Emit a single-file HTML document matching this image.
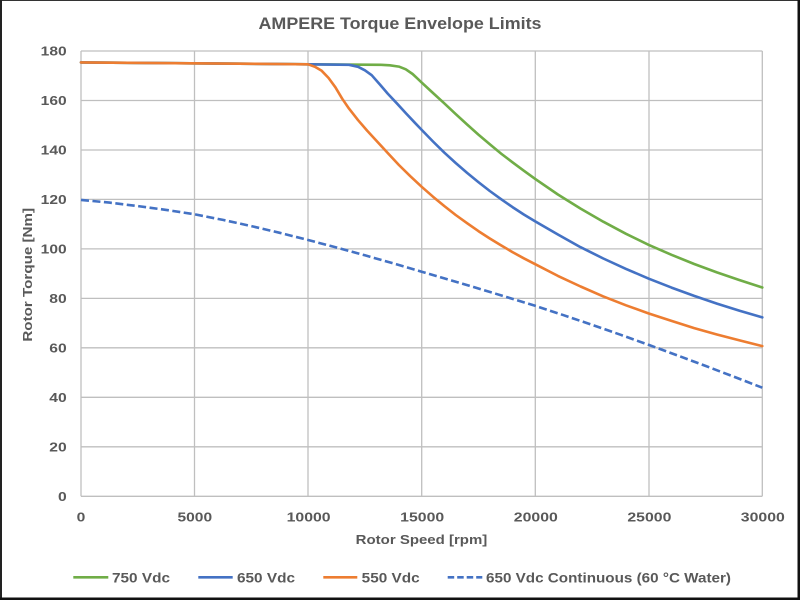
<!DOCTYPE html>
<html>
<head>
<meta charset="utf-8">
<style>
html,body{margin:0;padding:0;background:#fff;}
svg{display:block;}
text{font-family:"Liberation Sans",Arial,sans-serif;font-weight:bold;fill:#595959;}
</style>
</head>
<body>
<svg width="800" height="600" viewBox="0 0 800 600" xmlns="http://www.w3.org/2000/svg">
<rect x="0" y="0" width="800" height="600" fill="#fff"/>
<!-- frame -->
<rect x="0" y="0" width="800" height="1" fill="#333"/>
<rect x="0" y="0" width="2" height="600" fill="#222"/>
<rect x="797.5" y="0" width="2.5" height="600" fill="#111"/>
<rect x="0" y="597.5" width="800" height="2.5" fill="#111"/>

<!-- title -->
<text x="400" y="29" text-anchor="middle" font-size="16.5" textLength="283" lengthAdjust="spacingAndGlyphs">AMPERE Torque Envelope Limits</text>

<!-- grid -->
<g stroke="#BFBFBF" stroke-width="1.3" fill="none">
<line x1="81" y1="51" x2="762.3" y2="51"/>
<line x1="81" y1="100.5" x2="762.3" y2="100.5"/>
<line x1="81" y1="150" x2="762.3" y2="150"/>
<line x1="81" y1="199.4" x2="762.3" y2="199.4"/>
<line x1="81" y1="248.9" x2="762.3" y2="248.9"/>
<line x1="81" y1="298.4" x2="762.3" y2="298.4"/>
<line x1="81" y1="347.8" x2="762.3" y2="347.8"/>
<line x1="81" y1="397.3" x2="762.3" y2="397.3"/>
<line x1="81" y1="446.8" x2="762.3" y2="446.8"/>
<line x1="81" y1="496.3" x2="762.3" y2="496.3"/>
<line x1="81" y1="51" x2="81" y2="496.3"/>
<line x1="194.5" y1="51" x2="194.5" y2="496.3"/>
<line x1="308" y1="51" x2="308" y2="496.3"/>
<line x1="421.7" y1="51" x2="421.7" y2="496.3"/>
<line x1="535.3" y1="51" x2="535.3" y2="496.3"/>
<line x1="649" y1="51" x2="649" y2="496.3"/>
<line x1="762.3" y1="51" x2="762.3" y2="496.3"/>
</g>

<!-- y tick labels -->
<g font-size="13" text-anchor="end">
<text x="66.7" y="55.5" textLength="26" lengthAdjust="spacingAndGlyphs">180</text>
<text x="66.7" y="105" textLength="26" lengthAdjust="spacingAndGlyphs">160</text>
<text x="66.7" y="154.5" textLength="26" lengthAdjust="spacingAndGlyphs">140</text>
<text x="66.7" y="203.9" textLength="26" lengthAdjust="spacingAndGlyphs">120</text>
<text x="66.7" y="253.4" textLength="26" lengthAdjust="spacingAndGlyphs">100</text>
<text x="66.7" y="302.9" textLength="17.4" lengthAdjust="spacingAndGlyphs">80</text>
<text x="66.7" y="352.3" textLength="17.4" lengthAdjust="spacingAndGlyphs">60</text>
<text x="66.7" y="401.8" textLength="17.4" lengthAdjust="spacingAndGlyphs">40</text>
<text x="66.7" y="451.3" textLength="17.4" lengthAdjust="spacingAndGlyphs">20</text>
<text x="66.7" y="500.8" textLength="8.7" lengthAdjust="spacingAndGlyphs">0</text>
</g>

<!-- x tick labels -->
<g font-size="13" text-anchor="middle">
<text x="81" y="521.5" textLength="8.7" lengthAdjust="spacingAndGlyphs">0</text>
<text x="194.8" y="521.5" textLength="34.6" lengthAdjust="spacingAndGlyphs">5000</text>
<text x="308.6" y="521.5" textLength="44" lengthAdjust="spacingAndGlyphs">10000</text>
<text x="422.2" y="521.5" textLength="44" lengthAdjust="spacingAndGlyphs">15000</text>
<text x="535.8" y="521.5" textLength="44" lengthAdjust="spacingAndGlyphs">20000</text>
<text x="649.4" y="521.5" textLength="44" lengthAdjust="spacingAndGlyphs">25000</text>
<text x="762.8" y="521.5" textLength="44" lengthAdjust="spacingAndGlyphs">30000</text>
</g>

<!-- axis titles -->
<text x="421.5" y="544" text-anchor="middle" font-size="13" textLength="131.6" lengthAdjust="spacingAndGlyphs">Rotor Speed [rpm]</text>
<text transform="translate(32,274.8) rotate(-90)" x="0" y="0" text-anchor="middle" font-size="13" textLength="133.7" lengthAdjust="spacingAndGlyphs">Rotor Torque [Nm]</text>

<!-- series -->
<g fill="none" stroke-width="2.6" stroke-linejoin="round" stroke-linecap="round">
<!-- dashed 650 continuous -->
<polyline stroke="#4472C4" stroke-dasharray="8 3.5" stroke-linecap="butt"
 points="81,199.9 109.4,202.6 137.8,206.1 166.2,209.9 194.6,214.3 223,219.9 251.3,226.1 279.7,232.8 308.1,240.0 336.5,247.5 364.9,255.3 393.3,263.4 421.7,271.7 450,280.0 478.4,288.5 506.8,297.1 535.2,305.8 563.6,315.2 592.0,324.8 620.4,334.7 648.8,344.9 677.1,355.3 705.5,365.9 733.9,376.7 762.3,387.7"/>
<!-- 750 green -->
<polyline stroke="#70AD47"
 points="81,62.4 308.1,64.3 380.8,64.8 389.9,65.3 398.9,66.6 405.8,69.3 412.6,74.0 417.1,78.2 421.7,82.6 433.0,93.0 444.4,103.4 455.7,114.1 467.1,124.5 478.4,134.6 489.8,144.2 501.1,153.6 512.5,162.3 523.8,170.7 535.2,178.9 557.9,194.5 580.6,208.6 603.3,221.7 626.0,233.8 648.8,244.9 671.5,254.8 694.2,264.0 716.9,272.4 739.6,280.1 762.3,287.5"/>
<!-- 650 blue -->
<polyline stroke="#4472C4"
 points="81,62.4 308.1,64.3 349.0,64.8 358.1,66.8 364.9,70.3 371.7,75.2 380.0,84.6 387.6,93.5 396.7,103.2 405.8,113.1 414.8,122.7 421.7,129.9 433.0,141.5 444.4,152.7 455.7,163.0 467.1,172.9 478.4,182.1 489.8,191.0 501.1,199.2 512.5,207.1 523.8,214.5 535.2,221.4 557.9,234.5 580.6,247.2 603.3,258.5 626.0,268.9 648.8,278.7 671.5,287.6 694.2,295.9 716.9,303.6 739.6,310.8 762.3,317.4"/>
<!-- 550 orange -->
<polyline stroke="#ED7D31"
 points="81,62.4 308.1,64.3 314.9,66.8 321.7,70.8 328.5,77.9 335.4,87.3 342.2,98.7 349.0,108.6 358.1,120.2 367.1,130.6 376.2,140.5 387.6,152.9 398.9,165.0 410.3,176.2 421.7,186.8 433.0,196.7 444.4,206.1 455.7,215.0 467.1,223.2 478.4,231.1 489.8,238.5 501.1,245.4 512.5,252.1 523.8,258.3 535.2,264.2 557.9,275.9 580.6,286.5 603.3,296.4 626.0,305.3 648.8,313.5 671.5,320.9 694.2,328.1 716.9,334.5 739.6,340.4 762.3,346.1"/>
</g>

<!-- legend -->
<g stroke-width="2.6" fill="none">
<line x1="73.3" y1="577.3" x2="108.3" y2="577.3" stroke="#70AD47"/>
<line x1="198.3" y1="577.3" x2="232.7" y2="577.3" stroke="#4472C4"/>
<line x1="323.3" y1="577.3" x2="357.3" y2="577.3" stroke="#ED7D31"/>
<line x1="447.7" y1="577.3" x2="482.3" y2="577.3" stroke="#4472C4" stroke-dasharray="6.5 3"/>
</g>
<g font-size="13.5">
<text x="112" y="582.7" textLength="58" lengthAdjust="spacingAndGlyphs">750 Vdc</text>
<text x="237" y="582.7" textLength="58" lengthAdjust="spacingAndGlyphs">650 Vdc</text>
<text x="361.7" y="582.7" textLength="58" lengthAdjust="spacingAndGlyphs">550 Vdc</text>
<text x="486" y="582.7" textLength="245" lengthAdjust="spacingAndGlyphs">650 Vdc Continuous (60 °C Water)</text>
</g>
</svg>
</body>
</html>
